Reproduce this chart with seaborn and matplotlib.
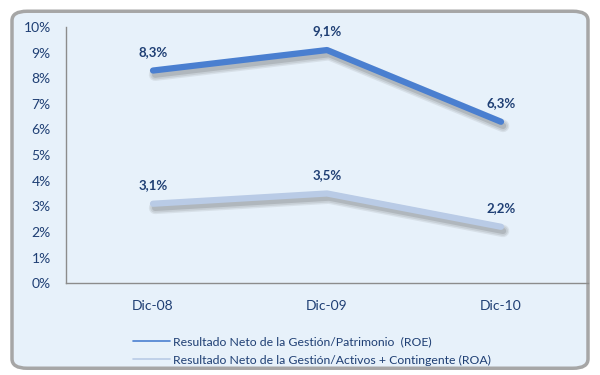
import matplotlib
matplotlib.use("Agg")
import matplotlib.pyplot as plt
import matplotlib.patheffects as pe
from matplotlib.patches import FancyBboxPatch
from matplotlib.lines import Line2D
from matplotlib.ticker import FuncFormatter
import seaborn as sns
import pandas as pd

periods = ["Dic-08", "Dic-09", "Dic-10"]
roe = [8.3, 9.1, 6.3]
roa = [3.1, 3.5, 2.2]
series_names = [
    "Resultado Neto de la Gestión/Patrimonio  (ROE)",
    "Resultado Neto de la Gestión/Activos + Contingente (ROA)",
]

sns.set_theme(style="white")
plt.rcParams["font.family"] = ["Lato", "DejaVu Sans"]

text_col = "#1f3f74"
roe_col = "#4a7fd0"
roa_col = "#b9cbe6"
bg_col = "#e7f1fa"

fig = plt.figure(figsize=(6, 3.75), dpi=100)
fig.patch.set_facecolor("white")

# rounded panel behind the chart
frame = FancyBboxPatch((0.02, 0.018), 0.96, 0.952,
                       boxstyle="round,pad=0,rounding_size=0.025",
                       transform=fig.transFigure, facecolor=bg_col,
                       edgecolor="#a6a6a6", linewidth=2.5, zorder=-5)
fig.add_artist(frame)

ax = fig.add_axes([0.11, 0.245, 0.87, 0.683])
ax.set_zorder(2)
ax.set_facecolor("none")

df = pd.DataFrame({
    "periodo": periods * 2,
    "valor": roe + roa,
    "serie": [series_names[0]] * 3 + [series_names[1]] * 3,
})
df["x"] = [0, 1, 2] * 2

# soft drop shadow built from a few faint, widening strokes
shadow = [
    pe.SimpleLineShadow(offset=(1.5, -3), shadow_color="#505050", alpha=0.10, linewidth=9),
    pe.SimpleLineShadow(offset=(1.5, -3), shadow_color="#505050", alpha=0.12, linewidth=7),
    pe.SimpleLineShadow(offset=(1.5, -3), shadow_color="#505050", alpha=0.18, linewidth=4.5),
    pe.Normal(),
]
sns.lineplot(data=df, x="x", y="valor", hue="serie",
             palette=[roe_col, roa_col], linewidth=4.5, ax=ax, legend=False,
             path_effects=shadow, solid_capstyle="round")

for vals in (roe, roa):
    for i, v in enumerate(vals):
        ax.annotate(f"{v:.1f}%".replace(".", ","), (i, v), xytext=(0, 9),
                    textcoords="offset points", ha="center", va="bottom",
                    fontsize=9.5, fontweight="bold", color=text_col)

ax.set_xlim(-0.5, 2.5)
ax.set_ylim(0, 10)
ax.set_yticks(range(0, 11))
ax.yaxis.set_major_formatter(FuncFormatter(lambda v, p: f"{int(v)}%"))
ax.set_xticks([0, 1, 2])
ax.set_xticklabels(periods)
ax.tick_params(axis="both", length=0, labelsize=10, labelcolor=text_col)
ax.tick_params(axis="x", pad=12)
ax.tick_params(axis="y", pad=11)
ax.set_xlabel("")
ax.set_ylabel("")
for s in ["top", "right"]:
    ax.spines[s].set_visible(False)
for s in ["left", "bottom"]:
    ax.spines[s].set_color("#8c8c8c")
    ax.spines[s].set_linewidth(1.0)

handles = [Line2D([], [], color=roe_col, linewidth=1.2),
           Line2D([], [], color=roa_col, linewidth=1.2)]
fig.legend(handles, series_names, loc="center", bbox_to_anchor=(0.52, 0.064),
           frameon=False, fontsize=8.8, labelcolor=text_col, handlelength=3.0,
           handletextpad=0.3, labelspacing=0.6)

fig.savefig("out.png", dpi=100)
